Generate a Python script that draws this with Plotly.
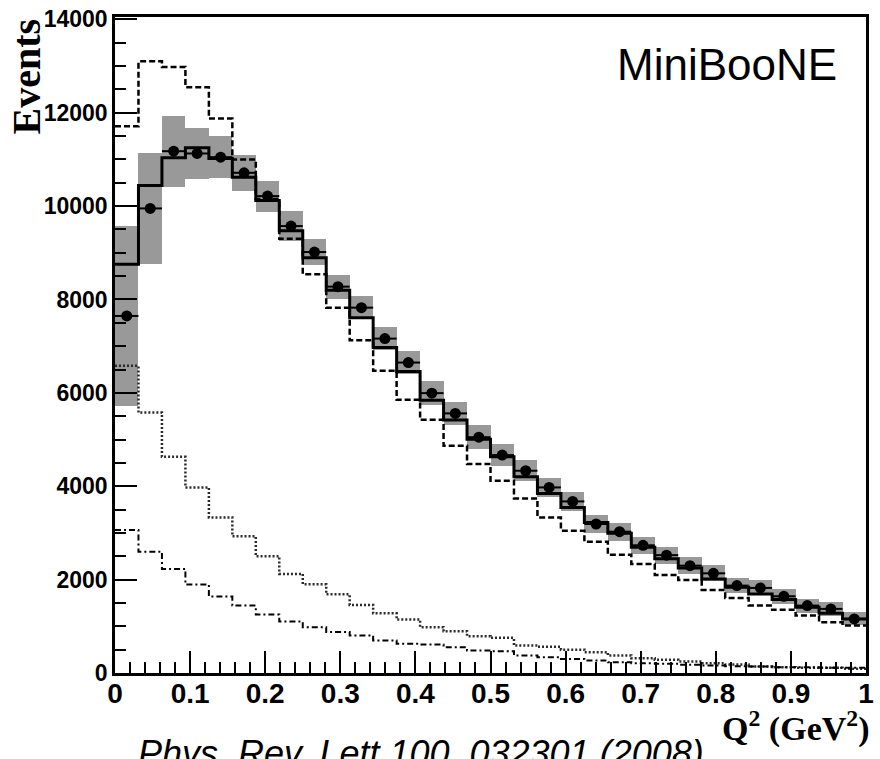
import plotly.graph_objects as go

# ---- data (Q^2 bins of width 1/32 GeV^2, 0..1) ----
n_bins = 32
bin_width = 1.0 / n_bins

data_events = [7647, 9950, 11176, 11127, 11048, 10713, 10214, 9572, 9016, 8275,
               7825, 7162, 6649, 5994, 5560, 5050, 4667, 4332, 3975, 3675,
               3191, 3027, 2735, 2524, 2299, 2135, 1872, 1822, 1643, 1444,
               1373, 1159]
data_syst = [1920, 1195, 760, 545, 455, 380, 330, 315, 270, 255,
             240, 250, 250, 250, 250, 260, 230, 220, 210, 200,
             195, 190, 185, 180, 175, 170, 165, 160, 155, 150,
             145, 140]
mc_fit = [8753, 10443, 11033, 11247, 11020, 10620, 10122, 9470, 8895, 8197,
          7611, 6969, 6456, 5843, 5420, 5009, 4631, 4203, 3846, 3547,
          3226, 2991, 2691, 2449, 2250, 2015, 1835, 1694, 1572, 1408,
          1279, 1159]
mc_nominal = [11711, 13100, 12980, 12545, 11875, 11000, 10150, 9300, 8540, 7825,
              7127, 6471, 5850, 5422, 4866, 4475, 4118, 3739, 3333, 3048,
              2813, 2535, 2335, 2100, 1990, 1780, 1608, 1444, 1352, 1230,
              1087, 1016]
bkg_a = [6578, 5579, 4631, 3975, 3333, 2927, 2499, 2122, 1900, 1684,
         1459, 1279, 1144, 980, 894, 787, 753, 588, 560, 500,
         446, 374, 317, 282, 246, 210, 182, 139, 124, 111,
         110, 90]
bkg_b = [3063, 2599, 2229, 1893, 1636, 1444, 1251, 1102, 980, 880,
         802, 695, 625, 610, 552, 481, 466, 374, 340, 300,
         267, 231, 210, 196, 175, 160, 146, 139, 124, 124,
         110, 110]

edges = [i * bin_width for i in range(n_bins + 1)]
centers = [(i + 0.5) * bin_width for i in range(n_bins)]


def step(vals):
    return edges, list(vals) + [vals[-1]]


fig = go.Figure()

# systematic error band
fig.add_trace(go.Bar(
    x=centers,
    y=[2 * e for e in data_syst],
    base=[d - e for d, e in zip(data_events, data_syst)],
    width=bin_width,
    marker=dict(color="#999999", line=dict(width=0)),
    showlegend=False,
))

# lower background curves
x, y = step(bkg_a)
fig.add_trace(go.Scatter(x=x, y=y, mode="lines", line_shape="hv",
                         line=dict(color="#2a2a2a", width=2.5, dash="2px,2px"),
                         showlegend=False))
x, y = step(bkg_b)
fig.add_trace(go.Scatter(x=x, y=y, mode="lines", line_shape="hv",
                         line=dict(color="black", width=2, dash="6px,3px,2px,3px"),
                         showlegend=False))

# nominal MC (dashed)
x, y = step(mc_nominal)
fig.add_trace(go.Scatter(x=x, y=y, mode="lines", line_shape="hv",
                         line=dict(color="black", width=2.5, dash="6px,3px"),
                         showlegend=False))

# best-fit MC (solid)
x, y = step(mc_fit)
fig.add_trace(go.Scatter(x=x, y=y, mode="lines", line_shape="hv",
                         line=dict(color="black", width=3),
                         showlegend=False))

# data points
fig.add_trace(go.Scatter(
    x=centers, y=data_events, mode="markers",
    marker=dict(color="black", size=11, symbol="circle"),
    error_x=dict(type="constant", value=bin_width / 2, thickness=2, width=0,
                 color="black"),
    showlegend=False,
))

fig.update_layout(
    width=880, height=759,
    margin=dict(l=115, r=6, t=16, b=86),
    paper_bgcolor="white", plot_bgcolor="white",
    bargap=0,
    xaxis=dict(
        range=[0, 1], dtick=0.1, tick0=0,
        showgrid=False, zeroline=False,
        showline=True, linecolor="black", linewidth=2.5, mirror=True,
        ticks="inside", ticklen=22, tickwidth=1.5, tickcolor="black",
        minor=dict(ticks="inside", ticklen=11, dtick=0.02, tickwidth=1.5,
                   tickcolor="black", showgrid=False),
        tickfont=dict(family="Liberation Sans, Arial",
                      size=28, color="black", weight="bold"),
        ticklabelstandoff=-6,
    ),
    yaxis=dict(
        range=[0, 14050], dtick=2000, tick0=0, tickformat="d",
        showgrid=False, zeroline=False,
        showline=True, linecolor="black", linewidth=2.5, mirror=True,
        ticks="inside", ticklen=22, tickwidth=1.5, tickcolor="black",
        minor=dict(ticks="inside", ticklen=11, dtick=500, tickwidth=1.5,
                   tickcolor="black", showgrid=False),
        tickfont=dict(family="Liberation Sans, Arial", size=23, color="black",
                      weight="bold"),
    ),
    annotations=[
        dict(text="Events", xref="paper", yref="paper", x=-0.118, y=0.91,
             textangle=-90, showarrow=False, xanchor="center", yanchor="middle",
             font=dict(family="Liberation Serif, Times New Roman", size=40,
                       color="black", weight="bold")),
        dict(text="MiniBooNE", xref="paper", yref="paper", x=0.815, y=0.927,
             showarrow=False, xanchor="center", yanchor="middle",
             font=dict(family="Liberation Sans, Arial", size=44, color="black")),
        dict(text="Q<sup>2</sup> (GeV<sup>2</sup>)", xref="paper", yref="paper",
             x=0.9065, y=-0.082, showarrow=False, xanchor="center",
             yanchor="middle",
             font=dict(family="Liberation Serif, Times New Roman", size=34,
                       color="black", weight="bold")),
        dict(text="Phys. Rev. Lett 100, 032301 (2008)", xref="paper",
             yref="paper", x=0.407, y=-0.123, showarrow=False,
             xanchor="center", yanchor="middle",
             font=dict(family="Liberation Sans, Arial", size=36, color="black",
                       style="italic")),
    ],
)

fig.write_html("out.html")
